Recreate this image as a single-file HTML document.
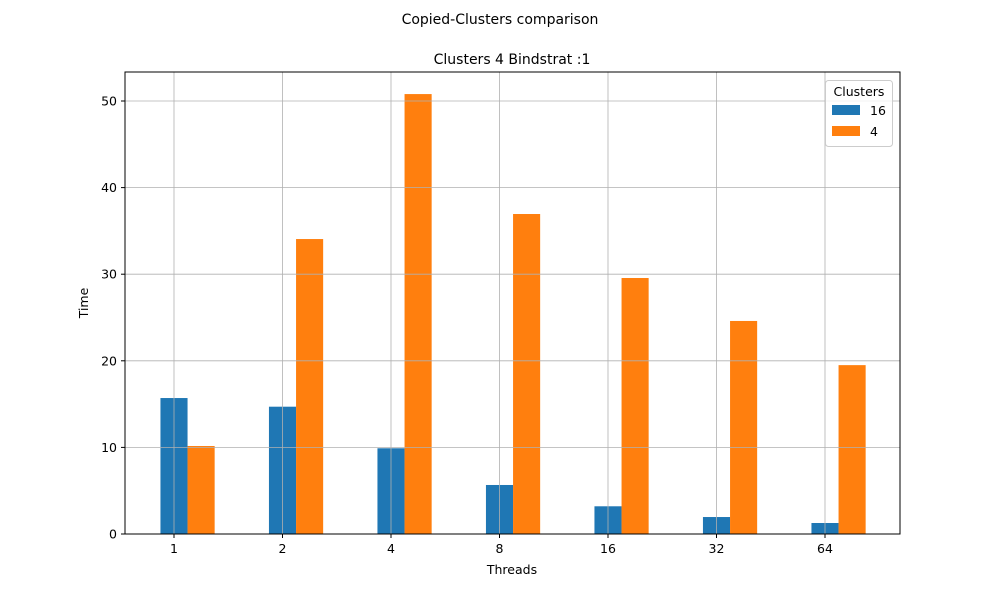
<!DOCTYPE html>
<html><head><meta charset="utf-8"><style>
body{margin:0;background:#fff;font-family:"Liberation Sans","DejaVu Sans",sans-serif;}
svg text{font-family:"DejaVu Sans","Liberation Sans",sans-serif;}
</style></head><body>
<svg id="chart" width="1000" height="600" xmlns="http://www.w3.org/2000/svg">
<rect width="1000" height="600" fill="#fff"/>
<text x="500" y="24" font-size="14" text-anchor="middle">Copied-Clusters comparison</text>
<text x="512" y="64" font-size="14" text-anchor="middle">Clusters 4 Bindstrat :1</text>
<g id="bars"></g>
<g id="grid"></g>
<rect x="125" y="72" width="775" height="462" fill="none" stroke="#000" stroke-width="1"/>
<g id="ticks"></g>
<text x="512" y="574" font-size="12.5" text-anchor="middle">Threads</text>
<text x="88" y="303" font-size="12.5" text-anchor="middle" transform="rotate(-90 88 303)">Time</text>
<g>
<rect x="825.5" y="80.5" width="67" height="66" rx="3" fill="#fff" fill-opacity="0.8" stroke="#ccc"/>
<text x="859" y="96" font-size="12.5" text-anchor="middle">Clusters</text>
<g><rect x="832" y="105" width="28" height="10" fill="#1f77b4"/><text x="870" y="115" font-size="12.5">16</text></g>
<g><rect x="832" y="126" width="28" height="10" fill="#ff7f0e"/><text x="870" y="136" font-size="12.5">4</text></g>
</g>
</svg>
<script>
const categories=["1","2","4","8","16","32","64"];
const series16=[15.7,14.7,9.9,5.66,3.2,1.96,1.27];
const series4=[10.16,34.06,50.8,36.95,29.56,24.6,19.5];
const yTicks=[0,10,20,30,40,50];
const NS="http://www.w3.org/2000/svg";
const x0=174,dx=108.5,bw=27.1;
function xs(i){return x0+i*dx;}
function ys(v){return 534-v*8.66;}
function mk(t,a,p){const e=document.createElementNS(NS,t);for(const k in a)e.setAttribute(k,a[k]);p.appendChild(e);return e;}
const bars=document.getElementById('bars'),grid=document.getElementById('grid'),ticks=document.getElementById('ticks');
categories.forEach((c,i)=>{
  const b=mk('rect',{x:xs(i)-bw/2,y:ys(series16[i]),width:bw,height:534-ys(series16[i]),fill:'#1f77b4'},bars);
  
  
  const o=mk('rect',{x:xs(i)+bw/2,y:ys(series4[i]),width:bw,height:534-ys(series4[i]),fill:'#ff7f0e'},bars);
  
  
  const g=mk('line',{x1:xs(i),x2:xs(i),y1:72,y2:534,stroke:'#b0b0b0','stroke-width':0.8},grid);
  
  
  mk('line',{x1:xs(i),x2:xs(i),y1:534,y2:538,stroke:'#000'},ticks);
  const t=mk('text',{x:xs(i),y:553,'font-size':12.5,'text-anchor':'middle'},ticks);
  t.textContent=c;
  
  
});
yTicks.forEach(v=>{
  const g=mk('line',{x1:125,x2:900,y1:ys(v),y2:ys(v),stroke:'#b0b0b0','stroke-width':0.8},grid);
  
  
  mk('line',{x1:121,x2:125,y1:ys(v),y2:ys(v),stroke:'#000'},ticks);
  const t=mk('text',{x:117,y:ys(v)+4.5,'font-size':12.5,'text-anchor':'end'},ticks);
  t.textContent=v;
  
  
});
</script>
</body></html>
